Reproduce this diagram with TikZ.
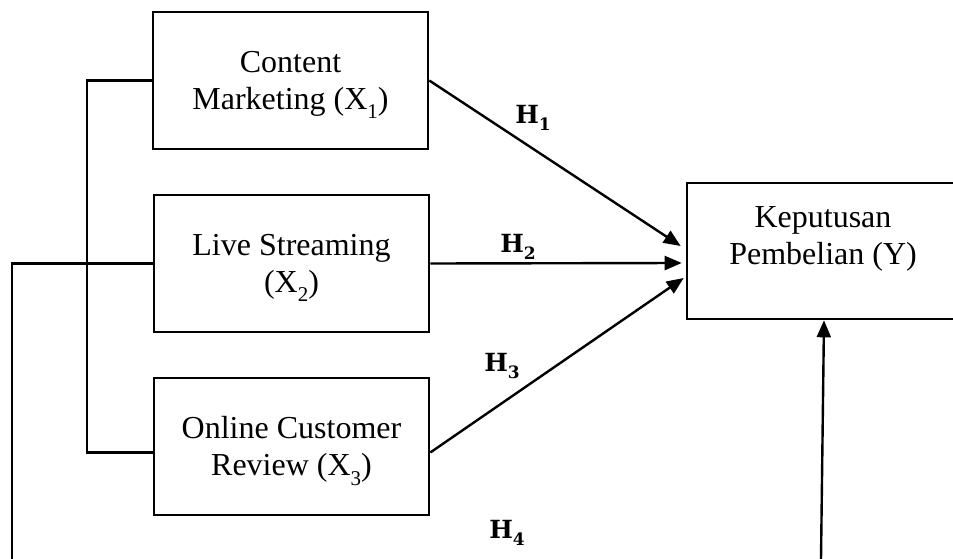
\documentclass[tikz,border=0pt]{standalone}
\usepackage{fontspec}
\setmainfont{Liberation Serif}
\newfontfamily\hypfont{DejaVu Serif}
\usetikzlibrary{arrows.meta}

% lowered index for variable names such as X_1
\newcommand{\lowidx}[1]{\raisebox{-0.3em}{\fontsize{21}{21}\selectfont #1}}
% hypothesis label such as H_1
\newcommand{\hyp}[1]{{\hypfont\bfseries\fontsize{25}{27}\selectfont H\raisebox{-0.3em}{\fontsize{17}{17}\selectfont #1}}}

\begin{document}
\begin{tikzpicture}[x=1pt,y=-1pt,
  varbox/.style={draw, line width=2.6pt, rectangle, minimum width=275pt, minimum height=137pt,
    inner sep=0pt},
  vartext/.style={align=center, inner sep=0pt, font=\fontsize{32}{37}\selectfont},
  link/.style={line width=2.4pt},
  path/.style={line width=2.4pt, -{Triangle[length=17pt,width=14pt]}},
  hlabel/.style={inner sep=0pt}]
\useasboundingbox (0,0) rectangle (953,559);
\clip (0,0) rectangle (953,559);

% independent variables
\node[varbox] (x1) at (290.5,80.5) {};
\node[varbox] (x2) at (291.5,263.5) {};
\node[varbox] (x3) at (291.5,446.5) {};
\node[vartext] (x1t) at (290.5,85) {Content\\Marketing (X\lowidx{1})};
\node[vartext] (x2t) at (291.5,268) {Live Streaming\\(X\lowidx{2})};
\node[vartext] (x3t) at (291.5,451) {Online Customer\\Review (X\lowidx{3})};

% dependent variable
\node[varbox, minimum width=272pt, minimum height=136pt] (y) at (823,251) {};
\node[vartext] (yt) at (823,239) {Keputusan\\Pembelian (Y)};

% free ends of the simultaneous path
\coordinate (lbot) at (12,559);
\coordinate (rbot) at (821,559);
\coordinate (bk) at (87,80.5);

% bracket joining the three variables
\draw[link] (x1.west) -- (bk) |- ([yshift=-6pt]x3.west);
% outer line towards the joint path
\draw[link] (lbot) |- (x2.west);

% partial paths
\draw[path] (x1.east) -- ([yshift=5pt,xshift=-5pt]y.west);
\draw[path] (x2.east) -- ([yshift=-12pt,xshift=-4pt]y.west);
\draw[path] ([yshift=-6pt]x3.east) -- ([yshift=-27pt,xshift=-2pt]y.west);
\draw[path] (rbot) -- ([xshift=1pt]y.south);

% hypothesis labels
\node[hlabel] (h1) at (533,118) {\hyp{1}};
\node[hlabel] (h2) at (518,247) {\hyp{2}};
\node[hlabel] (h3) at (502,366) {\hyp{3}};
\node[hlabel] (h4) at (507,533) {\hyp{4}};
\end{tikzpicture}
\end{document}
